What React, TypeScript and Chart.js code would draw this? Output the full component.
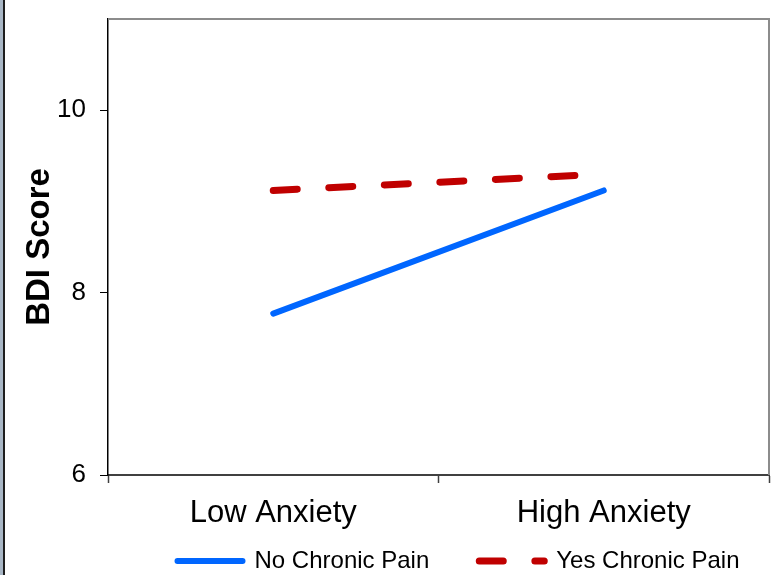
import React, { useEffect, useRef } from 'react';
import { Chart, registerables } from 'chart.js';

Chart.register(...registerables);

const CATEGORIES = ['Low Anxiety', 'High Anxiety'];
const SERIES_NAMES = ['No Chronic Pain', 'Yes Chronic Pain'];
const NO_PAIN = [7.77, 9.12];
const YES_PAIN = [9.12, 9.3];
const Y_TICKS = [6, 8, 10];
const Y_MIN = 6;
const Y_MAX = 11;
const Y_TITLE = 'BDI Score';

const FONT = "'Liberation Sans', Arial, Helvetica, sans-serif";
const BLUE = '#0066FF';
const RED = '#C00000';
const DASH = [24, 31.6];

export default function App() {
  const ref = useRef<HTMLCanvasElement>(null);

  useEffect(() => {
    if (!ref.current) return;

    const framePlugin = {
      id: 'framePlugin',
      beforeDatasetsDraw(chart: any) {
        const { ctx, chartArea: a } = chart;
        ctx.save();
        ctx.strokeStyle = '#8c8c8c';
        ctx.lineWidth = 2;
        ctx.beginPath();
        ctx.moveTo(a.left, a.top);
        ctx.lineTo(a.right, a.top);
        ctx.lineTo(a.right, a.bottom);
        ctx.stroke();
        ctx.restore();
      },
    };

    const legendShift = {
      id: 'legendShift',
      afterLayout(chart: any) {
        const lg = chart.legend;
        if (!lg) return;
        lg.left += 74;
        lg.right += 74;
        lg.top -= 34;
        lg.bottom -= 34;
      },
    };

    const chart = new Chart(ref.current, {
      type: 'line',
      data: {
        labels: CATEGORIES,
        datasets: [
          {
            label: SERIES_NAMES[0],
            data: NO_PAIN,
            borderColor: BLUE,
            backgroundColor: BLUE,
            borderWidth: 6,
            borderCapStyle: 'round',
            pointRadius: 0,
            pointHoverRadius: 0,
            tension: 0,
          },
          {
            label: SERIES_NAMES[1],
            data: YES_PAIN,
            borderColor: RED,
            backgroundColor: RED,
            borderWidth: 7,
            borderCapStyle: 'round',
            borderDash: DASH,
            pointRadius: 0,
            pointHoverRadius: 0,
            tension: 0,
          },
        ],
      },
      options: {
        animation: false,
        responsive: false,
        devicePixelRatio: 1,
        events: [],
        layout: { padding: { top: 19, right: 10, left: 0, bottom: -42 } },
        plugins: {
          tooltip: { enabled: false },
          legend: {
            display: true,
            position: 'bottom',
            align: 'center',
            labels: {
              usePointStyle: true,
              pointStyle: 'line',
              pointStyleWidth: 65,
              padding: 50,
              color: '#000',
              font: { family: FONT, size: 24 },
              generateLabels: (c: any) => {
                const items = (Chart as any).defaults.plugins.legend.labels.generateLabels(c);
                return items.map((it: any) => {
                  const ds = c.data.datasets[it.datasetIndex] || {};
                  const dash = ds.borderDash || [];
                  return {
                    ...it,
                    lineWidth: ds.borderWidth,
                    strokeStyle: ds.borderColor,
                    lineCap: ds.borderCapStyle || 'butt',
                    lineDash: dash,
                    lineDashOffset: 0,
                  };
                });
              },
            },
          },
        },
        scales: {
          x: {
            type: 'category',
            offset: true,
            grid: {
              offset: true,
              drawOnChartArea: false,
              drawTicks: true,
              tickLength: 8,
              tickColor: '#404040',
              tickWidth: 1.5,
            },
            border: { display: true, color: '#404040', width: 2 },
            ticks: {
              color: '#000',
              font: { family: FONT, size: 31 },
              padding: 12,
              maxRotation: 0,
              minRotation: 0,
              autoSkip: false,
            },
            afterFit: (scale: any) => {
              scale.height = 58;
              scale.paddingLeft = 0;
              scale.paddingRight = 0;
            },
          },
          y: {
            type: 'linear',
            min: Y_MIN,
            max: Y_MAX,
            grid: {
              drawOnChartArea: false,
              drawTicks: true,
              tickLength: 8,
              tickColor: '#000',
              tickWidth: 1,
            },
            border: { display: true, color: '#000', width: 1.5 },
            ticks: {
              color: '#000',
              font: { family: FONT, size: 26 },
              padding: 14,
            },
            afterBuildTicks: (scale: any) => {
              scale.ticks = Y_TICKS.map((v) => ({ value: v }));
            },
            afterFit: (scale: any) => {
              scale.width = 108;
              scale.paddingTop = 0;
              scale.paddingBottom = 0;
            },
            title: {
              display: true,
              text: Y_TITLE,
              color: '#000',
              font: { family: FONT, size: 33, weight: 'bold' },
              padding: { top: 20, bottom: 0 },
            },
          },
        },
      },
      plugins: [framePlugin, legendShift],
    } as any);

    return () => chart.destroy();
  }, []);

  return (
    <div
      style={{
        position: 'fixed',
        left: 0,
        top: 0,
        width: 779,
        height: 575,
        background: '#fff',
        overflow: 'hidden',
      }}
    >
      <canvas ref={ref} width={779} height={575} style={{ display: 'block' }} />
      <div style={{ position: 'absolute', left: 0, top: 0, width: 3, height: 575, background: '#a9b7c6' }} />
      <div style={{ position: 'absolute', left: 3, top: 0, width: 2, height: 575, background: '#1e1e1e' }} />
    </div>
  );
}
